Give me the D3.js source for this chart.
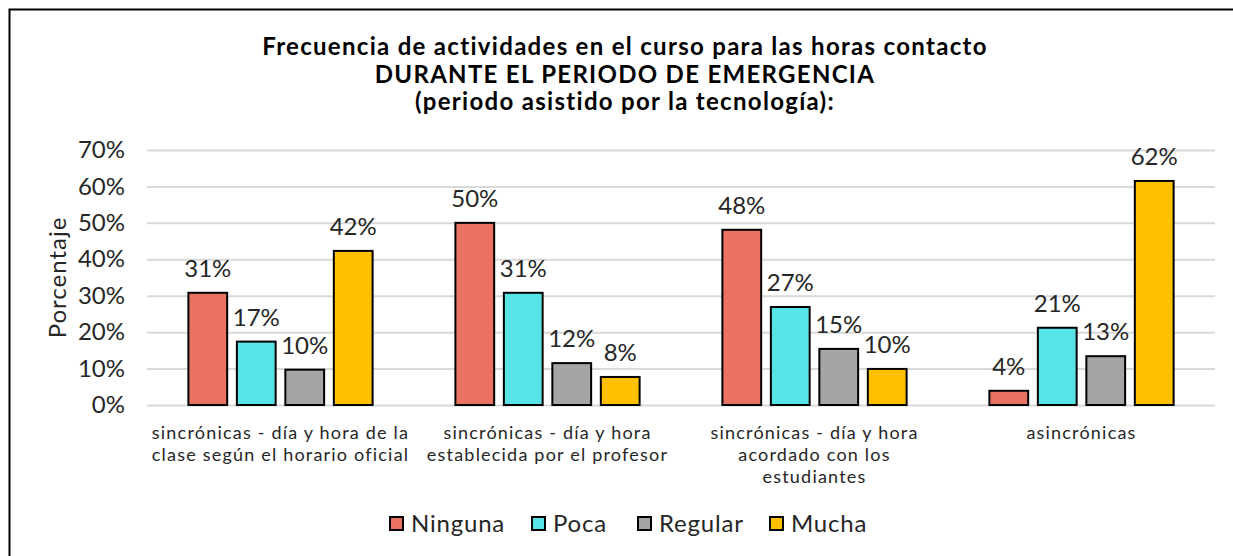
<!DOCTYPE html>
<html>
<head>
<meta charset="utf-8">
<script src="https://cdn.jsdelivr.net/npm/d3@7"></script>
<style>
  body { margin:0; background:#fff; }
  text { font-family: 'Lato', 'DejaVu Sans', sans-serif; fill:#262626; }
</style>
</head>
<body>
<div id="plot"></div>
<script>
// data
var categories = [
  ['sincrónicas - día y hora de la', 'clase según el horario oficial'],
  ['sincrónicas - día y hora', 'establecida por el profesor'],
  ['sincrónicas - día y hora', 'acordado con los', 'estudiantes'],
  ['asincrónicas']
];
var series = ['Ninguna', 'Poca', 'Regular', 'Mucha'];
var colors = ['#E97262', '#58E4E6', '#A5A5A5', '#FFC000'];
var ninguna = [30.8, 50.0, 48.1, 3.9];
var poca    = [17.4, 30.8, 26.9, 21.2];
var regular = [9.7, 11.5, 15.4, 13.4];
var mucha   = [42.3, 7.7, 9.9, 61.5];
var yTicks = [0, 10, 20, 30, 40, 50, 60, 70];
var titleLines = ['Frecuencia de actividades en el curso para las horas contacto',
  'DURANTE EL PERIODO DE EMERGENCIA', '(periodo asistido por la tecnología):'];

var values = [ninguna, poca, regular, mucha];

var W = 1233, H = 556;
var margin = {t:150, r:18, b:151, l:147};
var width = W - margin.l - margin.r,
    height = H - margin.t - margin.b;

var svg = d3.select('#plot').append('svg')
  .attr('width', W).attr('height', H);

// border
svg.append('rect')
  .attr('x', 9.5).attr('y', 9.5)
  .attr('width', W + 20).attr('height', H + 20)
  .style('fill', 'none').style('stroke', '#000').style('stroke-width', 2);

// title
svg.append('g').selectAll('text')
  .data(titleLines).enter().append('text')
  .attr('x', 625).attr('y', function(d, i){ return 55 + i*27.5; })
  .attr('text-anchor', 'middle')
  .style('font-size', '24px').style('font-weight', 'bold')
  .style('letter-spacing', '1.3px')
  .style('fill', '#000')
  .text(function(d){ return d; });

var plot = svg.append('g')
  .attr('transform', 'translate(' + margin.l + ',' + margin.t + ')');

var y = d3.scaleLinear().domain([0, 70]).range([height, 0]);
var x0 = d3.scaleBand().domain(d3.range(categories.length)).range([0, width])
  .paddingInner(0.31).paddingOuter(0.155);
var x1 = d3.scaleBand().domain(d3.range(series.length)).range([0, x0.bandwidth()])
  .paddingInner(0.2).paddingOuter(0);

// gridlines
var yAxis = d3.axisLeft(y).tickValues(yTicks).tickSize(-width).tickPadding(22)
  .tickFormat(function(d){ return d + '%'; });
var gy = plot.append('g').call(yAxis);
gy.select('.domain').remove();
gy.selectAll('line').style('stroke', '#D9D9D9').style('stroke-width', 2);
gy.selectAll('text').style('font-size', '24px').style('fill', '#262626')
  .style('font-family', "'Lato', 'DejaVu Sans', sans-serif");

// y label
svg.append('text')
  .attr('transform', 'translate(66,' + (margin.t + height/2) + ') rotate(-90)')
  .attr('text-anchor', 'middle')
  .style('font-size', '24px').style('letter-spacing', '1px')
  .text('Porcentaje');

// bars
var groups = plot.selectAll('.grp')
  .data(categories).enter().append('g')
  .attr('class', 'grp')
  .attr('transform', function(d, i){ return 'translate(' + x0(i) + ',0)'; });

groups.each(function(c, ci){
  var g = d3.select(this);
  var row = series.map(function(s, si){ return {si:si, v:values[si][ci]}; });
  g.selectAll('rect').data(row).enter().append('rect')
    .attr('x', function(d){ return x1(d.si); })
    .attr('y', function(d){ return y(d.v); })
    .attr('width', x1.bandwidth())
    .attr('height', function(d){ return height - y(d.v); })
    .style('fill', function(d){ return colors[d.si]; })
    .style('stroke', '#000').style('stroke-width', 2);
  g.selectAll('.lbl').data(row).enter().append('text')
    .attr('class', 'lbl')
    .attr('x', function(d){ return x1(d.si) + x1.bandwidth()/2; })
    .attr('y', function(d){ return y(d.v) - 16; })
    .attr('text-anchor', 'middle')
    .style('font-size', '24px')
    .text(function(d){ return Math.round(d.v) + '%'; });
});

// category labels
groups.each(function(c, ci){
  d3.select(this).append('g').selectAll('text')
    .data(c).enter().append('text')
    .attr('x', x0.bandwidth()/2)
    .attr('y', function(d, i){ return height + 34 + i*22; })
    .attr('text-anchor', 'middle')
    .style('font-size', '18px').style('letter-spacing', '1.2px')
    .text(function(d){ return d; });
});

// legend
var legX = [390, 532, 638, 770];
var leg = svg.append('g').selectAll('g')
  .data(series).enter().append('g')
  .attr('transform', function(d, i){ return 'translate(' + legX[i] + ',517)'; });
leg.append('rect')
  .attr('width', 13).attr('height', 13)
  .style('fill', function(d, i){ return colors[i]; })
  .style('stroke', '#000').style('stroke-width', 2);
leg.append('text')
  .attr('x', 21).attr('y', 15)
  .style('font-size', '24px').style('letter-spacing', '0.8px')
  .text(function(d){ return d; });
</script>
</body>
</html>
